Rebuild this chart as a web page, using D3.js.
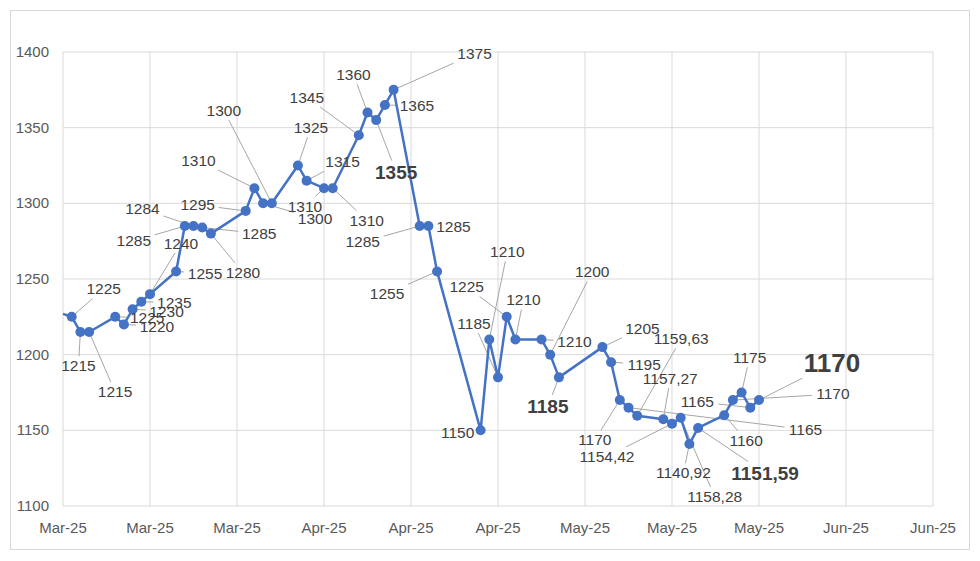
<!DOCTYPE html>
<html><head><meta charset="utf-8">
<script src="https://cdn.jsdelivr.net/npm/d3@7"></script>
<style>body{margin:0;background:#fff}svg{font-family:"Liberation Sans","Open Sans",sans-serif}</style>
</head><body><svg id="c" width="980" height="561"></svg>
<script>
const tickLabels = ["Mar-25","Mar-25","Mar-25","Apr-25","Apr-25","Apr-25","May-25","May-25","May-25","Jun-25","Jun-25"];
const yTicks = [1100,1150,1200,1250,1300,1350,1400];
const days = [0,1,2,3,6,7,8,9,10,13,14,15,16,17,21,22,23,24,27,28,30,31,34,35,36,37,38,41,42,43,48,49,50,51,52,55,56,57,62,63,64,65,66,69,70,71,72,73,76,77,78,79,80];
const values = [1227,1225,1215,1215,1225,1220,1230,1235,1240,1255,1285,1285,1284,1280,1295,1310,1300,1300,1325,1315,1310,1310,1345,1360,1355,1365,1375,1285,1285,1255,1150,1210,1185,1225,1210,1210,1200,1185,1205,1195,1170,1165,1159.63,1157.27,1154.42,1158.28,1140.92,1151.59,1160,1170,1175,1165,1170];
const labels = ["","1225","1215","1215","1225","1220","1230","1235","1240","1255","1285","1284","1285","1280","1295","1310","1300","1300","1325","1315","1310","1310","1345","1360","1355","1365","1375","1285","1285","1255","1150","1210","1185","1225","1210","1210","1200","1185","1205","1195","1170","1165","1159,63","1157,27","1154,42","1158,28","1140,92","1151,59","1160","1170","1175","1165","1170"];
// label placement (offset from point, px) and emphasis
const labelDx = [0,32,-2,26,32,33,34,33,31,29,-51,-51,57,32,-48,-56,52,-48,13,36,-19,34,-52,-14,20,32,81,-57,25,-50,-23,18,-24,-40,8,33,42,-11,40,33,-25,177,44,7,-65,34,-6,67,22,100,8,-53,73];
const labelDy = [0,-28,34,60,1,2,2,1,-51,2,15,-17,6,39,-6,-28,15,-93,-38,-19,18,32,-38,-38,52,1,-36,16,1,22,2,-88,-54,-30,-40,2,-83,29,-19,2,40,22,-77,-41,33,79,29,45,25,-6,-35,-6,-37];
const labelSize = values.map((v,i)=> i===52?26 : (i===24||i===37||i===47)?19 : 15.5);
const bold = values.map((v,i)=> i===52||i===24||i===37||i===47);

const svg = d3.select("#c");
const L=63,R=933,T=52,B=506;
const x = d3.scaleLinear().domain([0,100]).range([L,R]);
const y = d3.scaleLinear().domain([1100,1400]).range([B,T]);
svg.append("rect").attr("x",10.5).attr("y",10.5).attr("width",959).attr("height",539).attr("fill","none").attr("stroke","#d9d9d9");
const g = svg.append("g");
g.selectAll(".hg").data(yTicks).join("line").attr("x1",L).attr("x2",R).attr("y1",d=>y(d)).attr("y2",d=>y(d)).attr("stroke","#d9d9d9");
const xt = d3.range(0,101,10);
g.selectAll(".vg").data(xt).join("line").attr("y1",T).attr("y2",B).attr("x1",d=>x(d)).attr("x2",d=>x(d)).attr("stroke","#d9d9d9");
g.selectAll(".yl").data(yTicks).join("text").attr("x",L-14).attr("y",d=>y(d)+5).attr("text-anchor","end").attr("font-size",15).attr("fill","#595959").text(d=>d);
g.selectAll(".xl").data(xt).join("text").attr("x",d=>x(d)).attr("y",B+27).attr("text-anchor","middle").attr("font-size",15).attr("fill","#595959").text((d,i)=>tickLabels[i]);

const pts = days.map((d,i)=>({x:x(d),y:y(values[i]),i}));
pts.forEach(p=>{
  const i=p.i; if(!labels[i]) return;
  const dx=labelDx[i], dy=labelDy[i];
  const hw = labels[i].length*labelSize[i]*0.29+3, hh = labelSize[i]*0.5+2;
  if(Math.abs(dx)<=hw+8 && Math.abs(dy)<=hh+8) return;
  const t = Math.min(Math.abs(dx)>0?hw/Math.abs(dx):1e9, Math.abs(dy)>0?hh/Math.abs(dy):1e9);
  const ex = p.x+dx*(1-t), ey = p.y+dy*(1-t);
  g.append("line").attr("x1",p.x).attr("y1",p.y).attr("x2",ex).attr("y2",ey).attr("stroke","#a6a6a6").attr("stroke-width",1);
});
g.append("path").datum(pts).attr("d",d3.line().x(d=>d.x).y(d=>d.y)).attr("fill","none").attr("stroke","#4472C4").attr("stroke-width",2.5).attr("stroke-linejoin","round");
g.selectAll(".m").data(pts.filter(p=>labels[p.i])).join("circle").attr("cx",d=>d.x).attr("cy",d=>d.y).attr("r",5).attr("fill","#4472C4");
g.selectAll(".lb").data(pts.filter(p=>labels[p.i])).join("text")
 .attr("x",d=>d.x+labelDx[d.i]).attr("y",d=>d.y+labelDy[d.i]+labelSize[d.i]*0.35)
 .attr("text-anchor","middle").attr("font-size",d=>labelSize[d.i]).attr("font-weight",d=>bold[d.i]?"bold":"normal")
 .attr("fill","#404040").text(d=>labels[d.i]);
</script></body></html>
